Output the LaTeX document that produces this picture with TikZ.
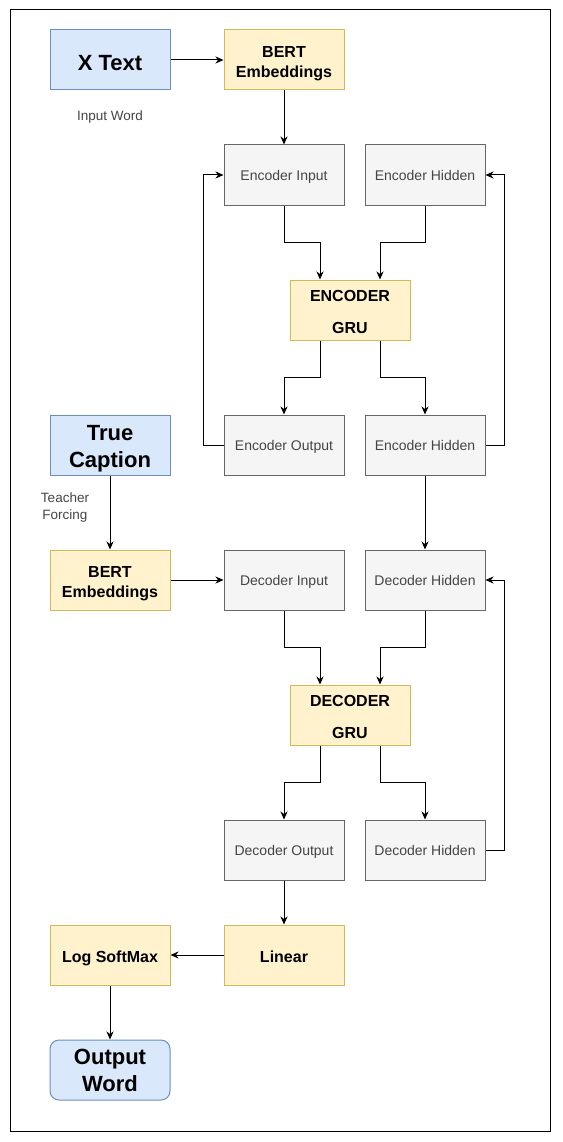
\documentclass[tikz,border=0pt]{standalone}
\usepackage{fontspec}
\setmainfont{Liberation Sans}
\usetikzlibrary{arrows.meta}
\definecolor{blueF}{HTML}{DAE8FC}
\definecolor{blueD}{HTML}{6C8EBF}
\definecolor{yelF}{HTML}{FFF2CC}
\definecolor{yelD}{HTML}{D6B656}
\definecolor{grayF}{HTML}{F5F5F5}
\definecolor{grayD}{HTML}{666666}
\definecolor{grayT}{HTML}{444444}
\newcommand\tpad[1]{\rule{0pt}{#1}}
\tikzset{
  box/.style={draw, line width=1pt, minimum width=120pt, minimum height=60pt, inner sep=0pt, align=center},
  oneline/.style={text height=#1, text depth=0pt},
  bluebox/.style={box, fill=blueF, draw=blueD, font=\fontsize{22}{27}\selectfont\bfseries},
  yelbox/.style={box, fill=yelF, draw=yelD, font=\fontsize{16}{20}\selectfont\bfseries},
  grubox/.style={box, fill=yelF, draw=yelD, font=\fontsize{16}{32}\selectfont\bfseries},
  graybox/.style={box, oneline=11pt, fill=grayF, draw=grayD, text=grayT, font=\fontsize{14}{17}\selectfont},
  lbl/.style={text=grayT, align=center, inner sep=0pt, font=\fontsize{13.5}{17}\selectfont},
  arr/.style={draw, line width=1pt, -{Stealth[length=8pt,width=7pt,inset=2.5pt]}}
}
\begin{document}
\begin{tikzpicture}[x=1pt,y=-1pt]
\useasboundingbox (0,0) rectangle (562,1142);
\draw[line width=1pt] (10,10) rectangle (550,1131);

\node[bluebox, oneline=22pt] (xt) at (110,60) {X Text};
\node[yelbox] (bert1) at (284,60) {\tpad{17.5pt}BERT\\Embeddings};
\node[lbl] (iw) at (110,117) {Input Word};
\node[graybox] (ein) at (284,175) {Encoder Input};
\node[graybox] (ehid1) at (425,175) {Encoder Hidden};
\node[grubox] (egru) at (350,310) {\tpad{14.5pt}ENCODER\\GRU};
\node[graybox] (eout) at (284,445) {Encoder Output};
\node[graybox] (ehid2) at (425,445) {Encoder Hidden};
\node[bluebox] (tc) at (110,445) {\tpad{23pt}True\\Caption};
\node[lbl] (tf) at (65,508) {Teacher\\Forcing};
\node[yelbox] (bert2) at (110,580) {\tpad{17.5pt}BERT\\Embeddings};
\node[graybox] (din) at (284,580) {Decoder Input};
\node[graybox] (dhid1) at (425,580) {Decoder Hidden};
\node[grubox] (dgru) at (350,715) {\tpad{14.5pt}DECODER\\GRU};
\node[graybox] (dout) at (284,850) {Decoder Output};
\node[graybox] (dhid2) at (425,850) {Decoder Hidden};
\node[yelbox, oneline=15pt] (lin) at (284,955) {Linear};
\node[yelbox, oneline=15pt] (lsm) at (110,955) {Log SoftMax};
\node[bluebox, rounded corners=9pt] (ow) at (110,1070) {Output\\Word};

\draw[arr] (xt.east) -- (bert1.west);
\draw[arr] (bert1.south) -- (ein.north);
\draw[arr] (ein.south) -- ++(0,37) -| ([xshift=-30pt]egru.north);
\draw[arr] (ehid1.south) -- ++(0,37) -| ([xshift=30pt]egru.north);
\draw[arr] ([xshift=-30pt]egru.south) -- ++(0,37) -| (eout.north);
\draw[arr] ([xshift=30pt]egru.south) -- ++(0,37) -| (ehid2.north);
\draw[arr] (eout.west) -- ++(-20,0) |- (ein.west);
\draw[arr] (ehid2.east) -- ++(19,0) |- (ehid1.east);
\draw[arr] (ehid2.south) -- (dhid1.north);
\draw[arr] (tc.south) -- (bert2.north);
\draw[arr] (bert2.east) -- (din.west);
\draw[arr] (din.south) -- ++(0,37) -| ([xshift=-30pt]dgru.north);
\draw[arr] (dhid1.south) -- ++(0,37) -| ([xshift=30pt]dgru.north);
\draw[arr] ([xshift=-30pt]dgru.south) -- ++(0,37) -| (dout.north);
\draw[arr] ([xshift=30pt]dgru.south) -- ++(0,37) -| (dhid2.north);
\draw[arr] (dhid2.east) -- ++(19,0) |- (dhid1.east);
\draw[arr] (dout.south) -- (lin.north);
\draw[arr] (lin.west) -- (lsm.east);
\draw[arr] (lsm.south) -- (ow.north);
\end{tikzpicture}
\end{document}
